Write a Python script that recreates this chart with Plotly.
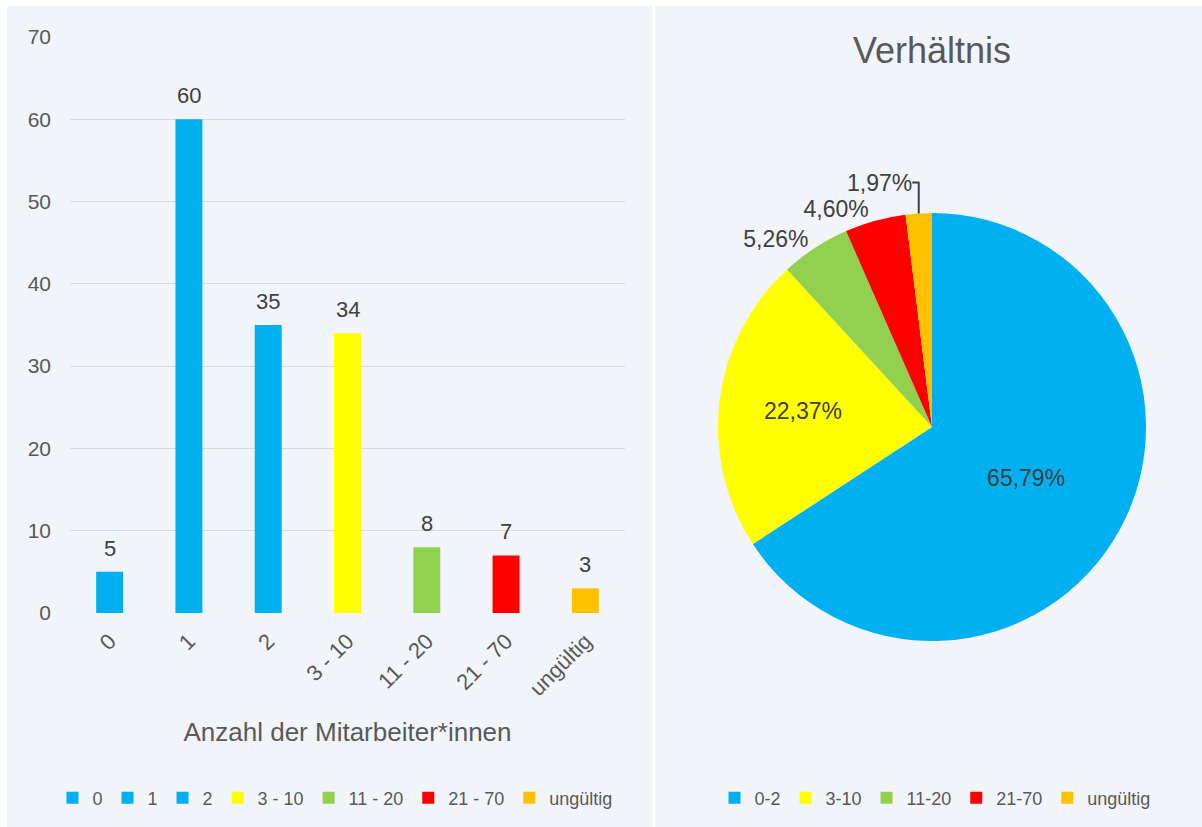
import plotly.graph_objects as go

# ---- data ----
bar_categories = ["0", "1", "2", "3 - 10", "11 - 20", "21 - 70", "ungültig"]
bar_values = [5, 60, 35, 34, 8, 7, 3]
bar_colors = ["#00B0F0", "#00B0F0", "#00B0F0", "#FFFF00", "#92D050", "#FF0000", "#FFC000"]

pie_labels = ["0-2", "3-10", "11-20", "21-70", "ungültig"]
pie_values = [100, 34, 8, 7, 3]
pie_texts = ["65,79%", "22,37%", "5,26%", "4,60%", "1,97%"]
pie_colors = ["#00B0F0", "#FFFF00", "#92D050", "#FF0000", "#FFC000"]
pie_textpos = ["inside", "inside", "outside", "outside", "outside"]

y_ticks = [0, 10, 20, 30, 40, 50, 60, 70]

W, H = 1202, 827
FONT = "Liberation Sans, Arial, sans-serif"
TXT = "#595959"
LBL = "#404040"
PANEL = "#F1F5F9"


def px(x):
    return x / W


def py(y):
    return 1 - y / H


fig = go.Figure()

for cat, val, col in zip(bar_categories, bar_values, bar_colors):
    fig.add_trace(go.Bar(
        x=[cat], y=[val], name=cat,
        marker=dict(color=col, line=dict(width=0)),
        width=0.34,
        legend="legend",
        xaxis="x", yaxis="y",
        hoverinfo="x+y",
    ))

bar_annotations = [
    dict(x=cat, y=val, xref="x", yref="y", text=str(val), showarrow=False,
         xanchor="center", yanchor="bottom", yshift=9,
         font=dict(family=FONT, size=22, color=LBL))
    for cat, val in zip(bar_categories, bar_values)
]

fig.add_trace(go.Pie(
    labels=pie_labels, values=pie_values, text=pie_texts,
    marker=dict(colors=pie_colors, line=dict(width=0)),
    sort=False, direction="clockwise", rotation=0,
    textposition=pie_textpos,
    textinfo="text",
    textfont=dict(family=FONT, size=23, color=LBL),
    insidetextorientation="horizontal",
    domain=dict(x=[px(932 - 214), px(932 + 214)], y=[py(427 + 214), py(427 - 214)]),
    legend="legend2",
    showlegend=True,
))

fig.update_layout(
    width=W, height=H,
    margin=dict(l=0, r=0, t=0, b=0, pad=0),
    paper_bgcolor="white",
    plot_bgcolor="rgba(0,0,0,0)",
    separators=",.",
    font=dict(family=FONT, color=TXT),
    barmode="overlay",
    xaxis=dict(
        domain=[px(70), px(625)],
        anchor="y",
        automargin=False,
        tickangle=-45,
        tickfont=dict(family=FONT, size=22, color=TXT),
        ticklabelstandoff=10,
        showgrid=False, showline=False, zeroline=False,
        title=dict(text="Anzahl der Mitarbeiter*innen",
                   font=dict(family=FONT, size=26, color=TXT), standoff=22),
    ),
    yaxis=dict(
        domain=[py(613), py(37)],
        range=[0, 70],
        automargin=False,
        tickvals=y_ticks,
        tickfont=dict(family=FONT, size=21, color=TXT),
        showgrid=True, gridcolor="#D9D9D9", gridwidth=1,
        zeroline=False, showline=False,
        ticklabelstandoff=18,
    ),
    legend=dict(
        orientation="h", x=px(335), xanchor="center", y=py(798), yanchor="middle",
        font=dict(family=FONT, size=18, color=TXT),
        bgcolor="rgba(0,0,0,0)", itemwidth=30, traceorder="normal",
    ),
    legend2=dict(
        orientation="h", x=px(935), xanchor="center", y=py(798), yanchor="middle",
        font=dict(family=FONT, size=18, color=TXT),
        bgcolor="rgba(0,0,0,0)", itemwidth=30,
    ),
    shapes=[
        dict(type="rect", xref="paper", yref="paper", layer="below",
             x0=px(7), x1=px(652), y0=0, y1=py(6), fillcolor=PANEL, line=dict(width=0)),
        dict(type="rect", xref="paper", yref="paper", layer="below",
             x0=px(655), x1=1, y0=0, y1=py(6), fillcolor=PANEL, line=dict(width=0)),
    ],
    annotations=bar_annotations + [
        dict(text="Verhältnis", xref="paper", yref="paper", x=px(932), y=py(50),
             xanchor="center", yanchor="middle", showarrow=False,
             font=dict(family=FONT, size=36, color=TXT)),
    ],
)

fig.write_html("out.html", config={"displayModeBar": False},
               post_script="document.body.style.margin='0';")
